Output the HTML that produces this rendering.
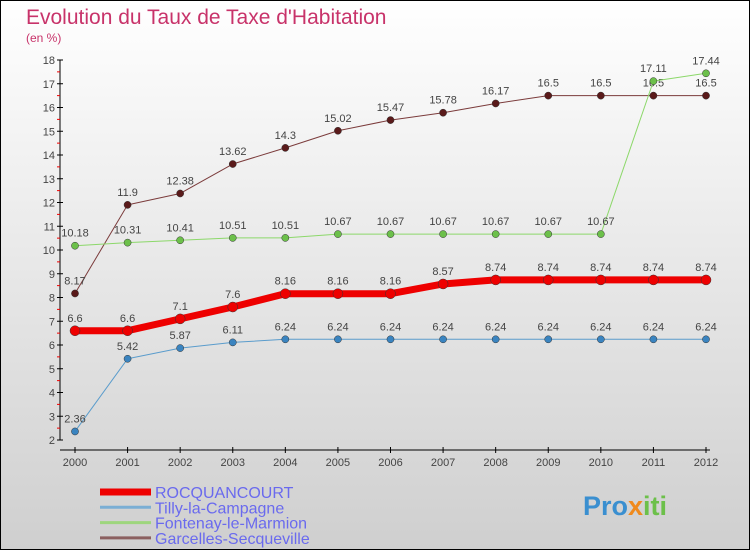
<!DOCTYPE html>
<html><head><meta charset="utf-8"><style>
body{margin:0}
svg{display:block;font-family:"Liberation Sans",sans-serif}
</style></head><body>
<svg id="c" width="750" height="550" viewBox="0 0 750 550">
<defs><linearGradient id="bg" x1="0" y1="0" x2="0" y2="1"><stop offset="0" stop-color="#ffffff"/><stop offset="1" stop-color="#cfcfcf"/></linearGradient></defs>
<rect x="0.5" y="0.5" width="749" height="549" fill="url(#bg)" stroke="#000"/>
<text x="26" y="24" font-size="21" fill="#c8336a">Evolution du Taux de Taxe d'Habitation</text>
<text x="26" y="42" font-size="12" fill="#c8336a">(en %)</text>
<g id="axes"></g><g id="series"></g><g id="legend"></g>
<text x="583" y="515" font-size="27" font-weight="bold" fill="#3a8fd0">Pro<tspan fill="#f08a1c">x</tspan><tspan fill="#6cc04a">iti</tspan></text>
</svg>
<script>
const years=[2000,2001,2002,2003,2004,2005,2006,2007,2008,2009,2010,2011,2012];
const yTicks=[2,3,4,5,6,7,8,9,10,11,12,13,14,15,16,17,18];
const rocq=[6.6,6.6,7.1,7.6,8.16,8.16,8.16,8.57,8.74,8.74,8.74,8.74,8.74];
const tilly=[2.36,5.42,5.87,6.11,6.24,6.24,6.24,6.24,6.24,6.24,6.24,6.24,6.24];
const fonte=[10.18,10.31,10.41,10.51,10.51,10.67,10.67,10.67,10.67,10.67,10.67,17.11,17.44];
const garc=[8.17,11.9,12.38,13.62,14.3,15.02,15.47,15.78,16.17,16.5,16.5,16.5,16.5];
const names=["ROCQUANCOURT","Tilly-la-Campagne","Fontenay-le-Marmion","Garcelles-Secqueville"];
const NS="http://www.w3.org/2000/svg";
const X=i=>75+i*(706-75)/(years.length-1);
const Y=v=>440-(v-2)*(380/16);
function mk(t,a,p){const e=document.createElementNS(NS,t);for(const k in a)e.setAttribute(k,a[k]);p.appendChild(e);return e;}
const ax=document.getElementById('axes');
mk('line',{x1:60,y1:Y(18),x2:60,y2:Y(2),stroke:'#000'},ax);
mk('line',{x1:60,y1:450,x2:710,y2:450,stroke:'#000'},ax);
yTicks.forEach(v=>{
 mk('line',{x1:57,y1:Y(v),x2:63,y2:Y(v),stroke:'#000'},ax);
 if(v<18)mk('line',{x1:57,y1:Y(v+0.5),x2:60,y2:Y(v+0.5),stroke:'#e00'},ax);
 const t=mk('text',{x:55,y:Y(v)+4,'font-size':11,fill:'#444','text-anchor':'end'},ax);t.textContent=v;
 
 
});
years.forEach((y,i)=>{
 mk('line',{x1:X(i),y1:447,x2:X(i),y2:453,stroke:'#000'},ax);
 const t=mk('text',{x:X(i),y:466,'font-size':11,fill:'#444','text-anchor':'middle'},ax);t.textContent=y;
 
 
});
const sg=document.getElementById('series');
const defs=[[garc,'#7b3b3b','#5a1a1a',1,5],[fonte,'#8cd86a','#6cc04a',1,5],[tilly,'#5a9ccc','#3a84c0',1,5],[rocq,'#ee0000','#ee0000',7,7]];
defs.forEach(([d,c,fc,w,r],k)=>{
 const g=mk('g',{},sg);
 
 
 const l=mk('polyline',{points:d.map((v,i)=>X(i)+','+Y(v)).join(' '),fill:'none',stroke:c,'stroke-width':w,'stroke-linejoin':'round'},g);
 
 
 d.forEach((v,i)=>{
  const p=mk('circle',{cx:X(i),cy:Y(v),r:r/1.4,fill:fc,stroke:'#333','stroke-width':0.5},g);
  
  
  const t=mk('text',{x:X(i),y:Y(v)-9,'font-size':11,fill:'#444','text-anchor':'middle'},g);t.textContent=v;
  
  
 });
});
const lg=document.getElementById('legend');
const lc=['#ee0000','#7aaed4','#9ed67e','#8b6060'],lw=[7,3,3,3];
names.forEach((n,i)=>{
 const y=492+i*15.3;
 const g=mk('g',{},lg);
 
 
 mk('line',{x1:100,y1:y,x2:151,y2:y,stroke:lc[i],'stroke-width':lw[i]},g);
 const t=mk('text',{x:155,y:y+6,'font-size':16,fill:'#6a6aee'},g);t.textContent=n;
});
</script>
</body></html>
